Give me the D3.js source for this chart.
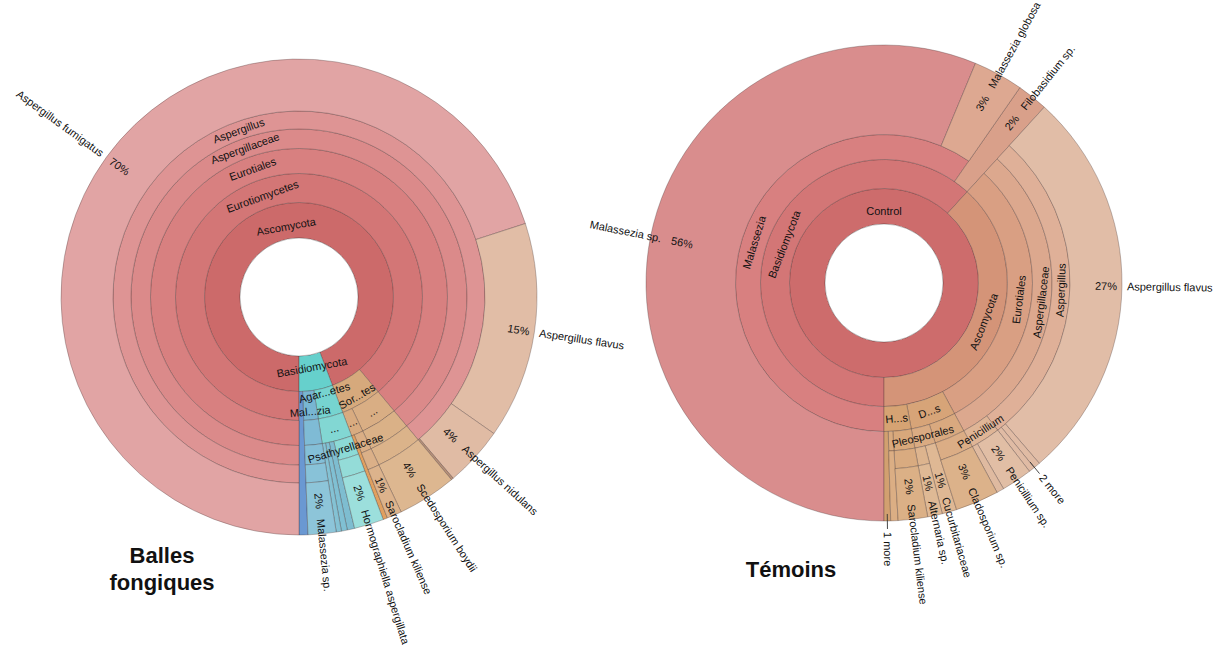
<!DOCTYPE html>
<html><head><meta charset="utf-8">
<script src="https://cdn.jsdelivr.net/npm/d3@7"></script>
<style>
body{margin:0;background:#fff;}
svg{display:block;font-family:"Liberation Sans",Arial,Helvetica,sans-serif;}
</style></head><body>
<svg id="chart" width="1219" height="650"></svg>
<script>
// ---------------- DATA ----------------
const leftTitle = ["Balles", "fongiques"];
const leftPaths = [
  "Ascomycota|Eurotiomycetes|Eurotiales|Aspergillaceae|Aspergillus|Aspergillus fumigatus",
  "Ascomycota|Eurotiomycetes|Eurotiales|Aspergillaceae|Aspergillus|Aspergillus flavus",
  "Ascomycota|Eurotiomycetes|Eurotiales|Aspergillaceae|Aspergillus|Aspergillus nidulans",
  "Ascomycota|Eurotiomycetes|Eurotiales|Aspergillaceae|Aspergillus|Aspergillus sp.",
  "Ascomycota|Sordariomycetes|Microascales|Microascaceae|Scedosporium|Scedosporium boydii",
  "Ascomycota|Sordariomycetes|Hypocreales|Sarocladiaceae|Sarocladium|Sarocladium kiliense",
  "Ascomycota|Sordariomycetes|Hypocreales|Nectriaceae",
  "Basidiomycota|Agaricomycetes|Agaricales|Psathyrellaceae|Hormographiella|Hormographiella aspergillata",
  "Basidiomycota|Agaricomycetes|Agaricales|Strophariaceae",
  "Basidiomycota|Agaricomycetes|Agaricales|Inocybaceae",
  "Basidiomycota|Agaricomycetes|Agaricales|Bolbitiaceae",
  "Basidiomycota|Malasseziomycetes|Malasseziales|Malasseziaceae|Malassezia|Malassezia sp.",
  "Basidiomycota|Tremellomycetes"
];
const leftValues = [69.9, 14.7, 4.05, 0.15, 4.0, 1.0, 0.3, 2.0, 0.5, 0.4, 0.35, 1.9, 0.6];
const leftNodeLabels = {
  "Ascomycota": "Ascomycota", "Eurotiomycetes": "Eurotiomycetes", "Eurotiales": "Eurotiales",
  "Aspergillaceae": "Aspergillaceae", "Aspergillus": "Aspergillus",
  "Sordariomycetes": "Sor...tes", "Microascales": "...", "Hypocreales": "...",
  "Basidiomycota": "Basidiomycota", "Agaricomycetes": "Agar...etes", "Agaricales": "...",
  "Psathyrellaceae": "Psathyrellaceae", "Malasseziomycetes": "Mal...zia"
};
const leftUnlabeled = ["Aspergillus sp.", "Nectriaceae", "Strophariaceae", "Inocybaceae", "Bolbitiaceae", "Tremellomycetes"];
const leftMore = [];

const rightTitle = ["Témoins"];
const rightRoot = "Control";
const rightPaths = [
  "Basidiomycota|Malassezia|Malassezia sp.",
  "Basidiomycota|Malassezia|Malassezia globosa",
  "Basidiomycota|Filobasidium sp.",
  "Ascomycota|Eurotiales|Aspergillaceae|Aspergillus|Aspergillus flavus",
  "Ascomycota|Eurotiales|Aspergillaceae|Aspergillus|Aspergillus niger",
  "Ascomycota|Eurotiales|Aspergillaceae|Aspergillus|Aspergillus versicolor",
  "Ascomycota|Eurotiales|Aspergillaceae|Penicillium|Penicillium sp.",
  "Ascomycota|Eurotiales|Aspergillaceae|Penicillium|Penicillium chrysogenum",
  "Ascomycota|Dothideomycetes|Capnodiales|Cladosporium|Cladosporium sp.",
  "Ascomycota|Dothideomycetes|Pleosporales|Cucurbitariaceae",
  "Ascomycota|Dothideomycetes|Pleosporales|Alternaria|Alternaria sp.",
  "Ascomycota|Hypocreales|Sarocladiaceae|Sarocladium|Sarocladium kiliense",
  "Ascomycota|Hypocreales|Nectriaceae|Fusarium sp.",
  "Ascomycota|Hypocreales|Acremonium sp."
];
const rightValues = [56.45, 3.4, 2.1, 27.0, 0.45, 0.4, 2.1, 0.5, 2.95, 1.0, 1.0, 2.0, 0.5, 0.45];
const rightNodeLabels = {
  "Control": "Control", "Basidiomycota": "Basidiomycota", "Malassezia": "Malassezia",
  "Ascomycota": "Ascomycota", "Eurotiales": "Eurotiales", "Aspergillaceae": "Aspergillaceae",
  "Aspergillus": "Aspergillus", "Penicillium": "Penicillium", "Dothideomycetes": "D...s",
  "Hypocreales": "H...s", "Pleosporales": "Pleosporales"
};
const rightUnlabeled = ["Penicillium chrysogenum", "Fusarium sp."];
const rightMore = [
  {label: "2 more", members: ["Aspergillus niger", "Aspergillus versicolor"]},
  {label: "1 more", members: ["Acremonium sp."]}
];

// ---------------- STYLE ----------------
const leftColors = {
  "Ascomycota": "#cc6a6a", "Eurotiomycetes": "#d37676", "Eurotiales": "#d88080",
  "Aspergillaceae": "#db8a8a", "Aspergillus": "#de9494", "Aspergillus fumigatus": "#e1a4a4",
  "Aspergillus flavus": "#e1bda6", "Aspergillus nidulans": "#e0bba4", "Aspergillus sp.": "#b89078",
  "Sordariomycetes": "#d6a97c", "Microascales": "#d9ae84", "Microascaceae": "#dab187",
  "Scedosporium": "#dbb38a", "Scedosporium boydii": "#ddb790",
  "Hypocreales": "#d8ab80", "Sarocladiaceae": "#daae85", "Sarocladium": "#dbb088",
  "Sarocladium kiliense": "#dcb38c", "Nectriaceae": "#e0a060",
  "Basidiomycota": "#66d0cc", "Agaricomycetes": "#76d4d0", "Agaricales": "#82d7d3",
  "Psathyrellaceae": "#8cdad6", "Hormographiella": "#94dcd8", "Hormographiella aspergillata": "#9cdfdc",
  "Strophariaceae": "#7ebdd0", "Inocybaceae": "#80c0d3", "Bolbitiaceae": "#84c2d4",
  "Malasseziomycetes": "#78b6d2", "Malasseziales": "#7fbbd5", "Malasseziaceae": "#84bfd7",
  "Malassezia": "#88c2d8", "Malassezia sp.": "#8dc5d9", "Tremellomycetes": "#6a98d2"
};
const rightColors = {
  "Control": "#cd6c6c", "Basidiomycota": "#d37676", "Malassezia": "#d88080",
  "Malassezia sp.": "#d98d8d", "Malassezia globosa": "#dda891", "Filobasidium sp.": "#d9a08a",
  "Ascomycota": "#d49478", "Eurotiales": "#d99f83", "Aspergillaceae": "#dca88e",
  "Aspergillus": "#dfb098", "Aspergillus flavus": "#e1bda7", "Aspergillus niger": "#e0bba4",
  "Aspergillus versicolor": "#e0bba4", "Penicillium": "#dfb596", "Penicillium sp.": "#e1bea5",
  "Penicillium chrysogenum": "#dfbaa0", "Dothideomycetes": "#d7a478", "Capnodiales": "#d9a97f",
  "Cladosporium": "#dbad85", "Cladosporium sp.": "#dcb28a", "Pleosporales": "#daab82",
  "Cucurbitariaceae": "#dfb894", "Alternaria": "#ddb48e", "Alternaria sp.": "#dfb995",
  "Hypocreales": "#d6a373", "Sarocladiaceae": "#d8a87b", "Sarocladium": "#d9ab80",
  "Sarocladium kiliense": "#dbb086", "Nectriaceae": "#d9aa7e", "Fusarium sp.": "#dbae84",
  "Acremonium sp.": "#d2a070"
};

const ringEdges = [59, 94.5, 123.5, 148.5, 168, 186];
const outerR = 238;
const svg = d3.select("#chart");

function buildTree(rootName, paths, values) {
  const root = {name: rootName, children: []};
  paths.forEach((p, i) => {
    let node = root;
    p.split("|").forEach(part => {
      let c = node.children.find(k => k.name === part);
      if (!c) { c = {name: part, children: []}; node.children.push(c); }
      node = c;
    });
    node.value = values[i];
  });
  return root;
}

function drawChart(cfg) {
  const h = d3.hierarchy(buildTree(cfg.root, cfg.paths, cfg.values),
      d => d.children.length ? d.children : null)
    .sum(d => d.children.length ? 0 : d.value);
  d3.partition().size([1, 1])(h);
  const total = h.value;
  const angle = d3.scaleLinear().domain([0, 1]).range([Math.PI, 3 * Math.PI]);
  const ring = d => d.depth - (cfg.showRoot ? 0 : 1);
  const inner = d => ringEdges[ring(d)];
  const outer = d => d.children ? ringEdges[ring(d) + 1] : outerR;
  const g = svg.append("g").attr("transform", `translate(${cfg.cx},${cfg.cy})`);
  const nodes = h.descendants().filter(d => cfg.showRoot || d.depth > 0);

  const arc = d3.arc()
    .startAngle(d => angle(d.x0)).endAngle(d => angle(d.x1))
    .innerRadius(inner).outerRadius(outer);

  g.selectAll("path.seg").data(nodes).join("path")
    .attr("class", "seg")
    .attr("d", arc)
    .attr("fill", d => cfg.colors[d.data.name] || "#ddd")
    .attr("stroke", "#3a2a2a").attr("stroke-opacity", 0.38).attr("stroke-width", 0.8);

  g.append("circle").attr("r", ringEdges[0]).attr("fill", "#fff")
    .attr("stroke", "#3a2a2a").attr("stroke-opacity", 0.38).attr("stroke-width", 0.8);

  // internal labels (tangential)
  const internal = nodes.filter(d => d.children && cfg.nodeLabels[d.data.name] !== undefined);
  const items = internal.map(d => {
    const th = angle((d.x0 + d.x1) / 2);
    const rIn = inner(d), rOut = outer(d);
    const base = (rIn + rOut) / 2 - Math.max(0, rOut - rIn - 25) * 0.5;
    const t = g.append("text").attr("font-size", 11).attr("fill", "#111")
      .attr("text-anchor", "middle").attr("dy", "0.35em")
      .text(cfg.nodeLabels[d.data.name]);
    const w = t.node().getComputedTextLength();
    const span = (d.x1 - d.x0) * 2 * Math.PI * base;
    return {d, th, base, t, ring: ring(d), overflow: w > span && d.depth > 0};
  });
  const byRing = d3.group(items.filter(it => it.overflow), it => it.ring);
  byRing.forEach(list => {
    if (list.length < 2) return;
    list.sort((a, b) => a.th - b.th).forEach((it, i) => { it.base += (i % 2 === 0 ? 8 : -8); });
  });
  items.forEach(it => {
    let deg = it.th * 180 / Math.PI;
    deg = ((deg % 360) + 540) % 360 - 180;
    const rot = (deg > 90 || deg < -90) ? deg - 180 : deg;
    const x = it.base * Math.sin(it.th), y = -it.base * Math.cos(it.th);
    it.t.attr("transform", `translate(${x},${y}) rotate(${rot})`);
  });

  // leaf labels (radial)
  const leaves = h.leaves();
  const grouped = new Set(cfg.more.flatMap(m => m.members));
  const radialText = (th, r, txt, anchor) => {
    let deg = ((th * 180 / Math.PI) % 360 + 360) % 360;
    const right = deg < 180;
    const rot = right ? deg - 90 : deg - 270;
    return g.append("text").attr("font-size", 11).attr("fill", "#111")
      .attr("dy", "0.35em")
      .attr("text-anchor", anchor(right))
      .attr("transform", `translate(${r * Math.sin(th)},${-r * Math.cos(th)}) rotate(${rot})`)
      .text(txt);
  };
  leaves.forEach(d => {
    const name = d.data.name;
    if (cfg.unlabeled.includes(name) || grouped.has(name)) return;
    const pct = d.value / total * 100;
    const th = angle((d.x0 + d.x1) / 2);
    let b = pct >= 10 ? outerR : outerR - 20;
    // measure name to keep it inside the panel
    const probe = g.append("text").attr("font-size", 11).text(name);
    const w = probe.node().getComputedTextLength();
    probe.remove();
    const sx = Math.sin(th);
    if (cfg.xMin !== undefined && sx < 0) {
      const far = cfg.cx + (b + 5 + w) * sx;
      if (far < cfg.xMin) b = (cfg.xMin - cfg.cx) / sx - 5 - w;
    }
    radialText(th, b - 5, Math.round(pct) + "%", right => right ? "end" : "start");
    radialText(th, b + 5, name, right => right ? "start" : "end");
  });
  cfg.more.forEach(m => {
    const ls = leaves.filter(l => m.members.includes(l.data.name));
    const th = angle((d3.min(ls, l => l.x0) + d3.max(ls, l => l.x1)) / 2);
    g.append("line")
      .attr("x1", (outerR - 7) * Math.sin(th)).attr("y1", -(outerR - 7) * Math.cos(th))
      .attr("x2", (outerR + 8) * Math.sin(th)).attr("y2", -(outerR + 8) * Math.cos(th))
      .attr("stroke", "#333").attr("stroke-width", 0.9);
    radialText(th, outerR + 11, m.label, right => right ? "start" : "end");
  });

  // title
  const tt = svg.append("text").attr("font-size", 22).attr("font-weight", "bold")
    .attr("text-anchor", "middle").attr("fill", "#111");
  cfg.title.forEach((line, i) => {
    tt.append("tspan").attr("x", cfg.titleX).attr("y", cfg.titleY + i * 27).text(line);
  });
}

drawChart({root: "Balles fongiques", showRoot: false, paths: leftPaths, values: leftValues,
  nodeLabels: leftNodeLabels, unlabeled: leftUnlabeled, more: leftMore, colors: leftColors,
  cx: 299, cy: 297, title: leftTitle, titleX: 162, titleY: 563});
drawChart({root: rightRoot, showRoot: true, paths: rightPaths, values: rightValues,
  nodeLabels: rightNodeLabels, unlabeled: rightUnlabeled, more: rightMore, colors: rightColors,
  cx: 884, cy: 283, xMin: 590, title: rightTitle, titleX: 791, titleY: 577});
</script>
</body></html>
